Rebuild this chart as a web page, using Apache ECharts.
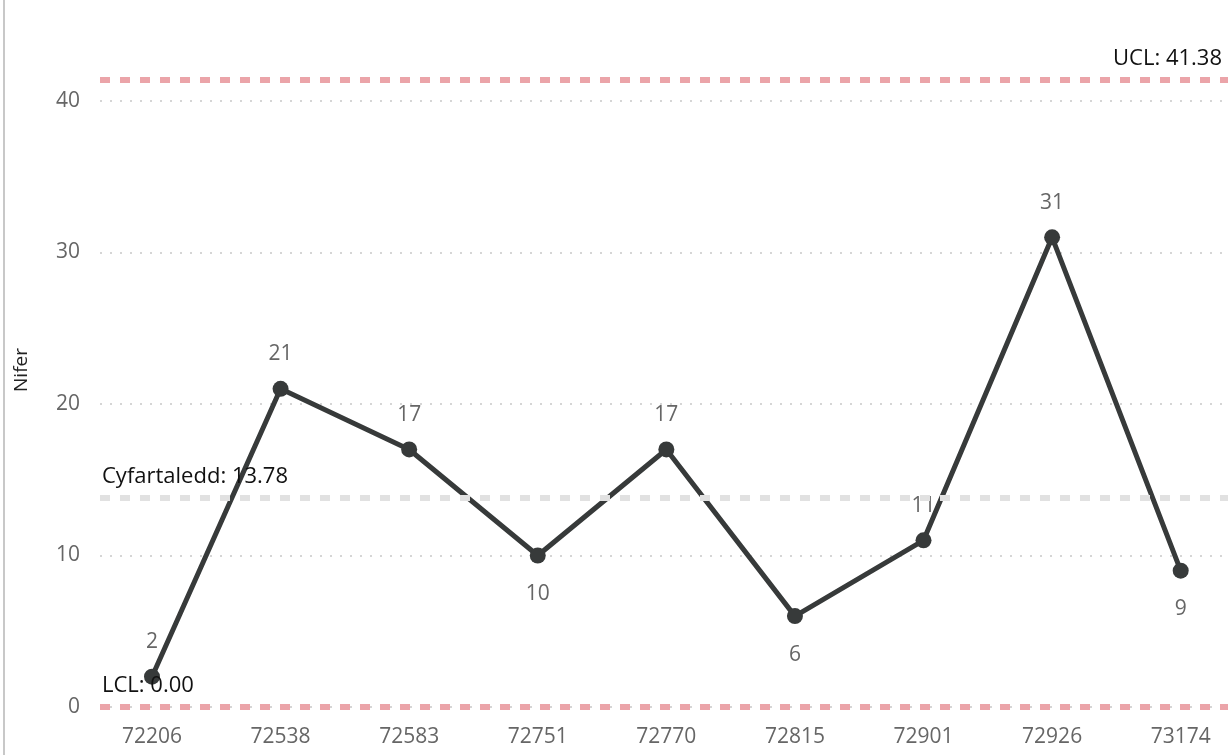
<!DOCTYPE html>
<html>
<head>
<meta charset="utf-8">
<style>
  html, body { margin: 0; padding: 0; background: #fff; }
  #chart { width: 1228px; height: 755px; }
</style>
<script src="https://cdn.jsdelivr.net/npm/echarts@6/dist/echarts.min.js"></script>
</head>
<body>
<div id="chart"></div>
<script>
// Control chart: count per item with mean and control limits
const categories = ['72206', '72538', '72583', '72751', '72770', '72815', '72901', '72926', '73174'];
const counts = [2, 21, 17, 10, 17, 6, 11, 31, 9];
const labelSides = ['top', 'top', 'top', 'bottom', 'top', 'bottom', 'top', 'top', 'bottom'];
const meanValue = 13.78;
const ucl = 41.38;
const lcl = 0.00;
const yTicks = [0, 10, 20, 30, 40];

const FONT = '"Open Sans", "Noto Sans", sans-serif';
const chart = echarts.init(document.getElementById('chart'), null, { renderer: 'canvas' });

const yAxisBase = {
  type: 'value', min: 0, max: 50, interval: 10
};

chart.setOption({
  animation: false,
  backgroundColor: '#fff',
  textStyle: { fontFamily: FONT },
  grid: [
    { left: 100, right: 0, top: -50.5, bottom: 48, outerBoundsMode: 'none', containLabel: false },
    { left: 87.7, right: -17, top: -50.5, bottom: 48, outerBoundsMode: 'none', containLabel: false }
  ],
  xAxis: [
    { type: 'value', gridIndex: 0, min: 0, max: 1, show: false },
    {
      type: 'category', gridIndex: 1, data: categories, boundaryGap: true,
      axisLine: { show: false }, axisTick: { show: false },
      axisLabel: { color: '#666', fontSize: 21, margin: 20, fontFamily: FONT }
    }
  ],
  yAxis: [
    Object.assign({}, yAxisBase, {
      gridIndex: 0,
      axisLine: { show: false }, axisTick: { show: false },
      axisLabel: {
        color: '#666', fontSize: 21, margin: 20, fontFamily: FONT,
        formatter: v => (yTicks.indexOf(v) >= 0 ? String(v) : '')
      },
      splitLine: { lineStyle: { color: '#c8c8c8', width: 1.5, type: [2, 8] } }
    }),
    Object.assign({}, yAxisBase, {
      gridIndex: 1, show: false, splitLine: { show: false }
    })
  ],
  graphic: [
    { type: 'rect', shape: { x: 3, y: 0, width: 2, height: 755 }, style: { fill: '#c8c8c8' } },
    {
      type: 'text', x: 22, y: 370, rotation: Math.PI / 2,
      style: { text: 'Nifer', fill: '#222', font: '19px ' + FONT, align: 'center', verticalAlign: 'middle' }
    }
  ],
  series: [
    {
      type: 'line', xAxisIndex: 0, yAxisIndex: 0, data: [], silent: true,
      markLine: {
        symbol: ['none', 'none'], silent: true, animation: false,
        data: [
          {
            yAxis: ucl,
            lineStyle: { color: '#eba4a9', width: 6, type: [10, 10] },
            label: { position: 'insideEndTop', formatter: 'UCL: ' + ucl.toFixed(2), distance: [6, 10] }
          },
          {
            yAxis: meanValue,
            lineStyle: { color: '#e1e1e1', width: 6, type: [10, 10] },
            label: { position: 'insideStartTop', formatter: 'Cyfartaledd: ' + meanValue.toFixed(2), distance: [2, 10] }
          },
          {
            yAxis: lcl,
            lineStyle: { color: '#eba4a9', width: 6, type: [10, 10] },
            label: { position: 'insideStartTop', formatter: 'LCL: ' + lcl.toFixed(2), distance: [2, 10] }
          }
        ],
        label: { color: '#111', fontSize: 22, fontFamily: FONT }
      }
    },
    {
      type: 'line', xAxisIndex: 1, yAxisIndex: 1,
      data: counts.map((v, i) => ({
        value: v,
        label: { position: labelSides[i], distance: labelSides[i] === 'bottom' ? 20 : 16 }
      })),
      symbol: 'circle', symbolSize: 16,
      lineStyle: { color: '#373a3a', width: 5 },
      itemStyle: { color: '#373a3a' },
      label: { show: true, color: '#666', fontSize: 21, fontFamily: FONT }
    }
  ]
});
</script>
</body>
</html>
